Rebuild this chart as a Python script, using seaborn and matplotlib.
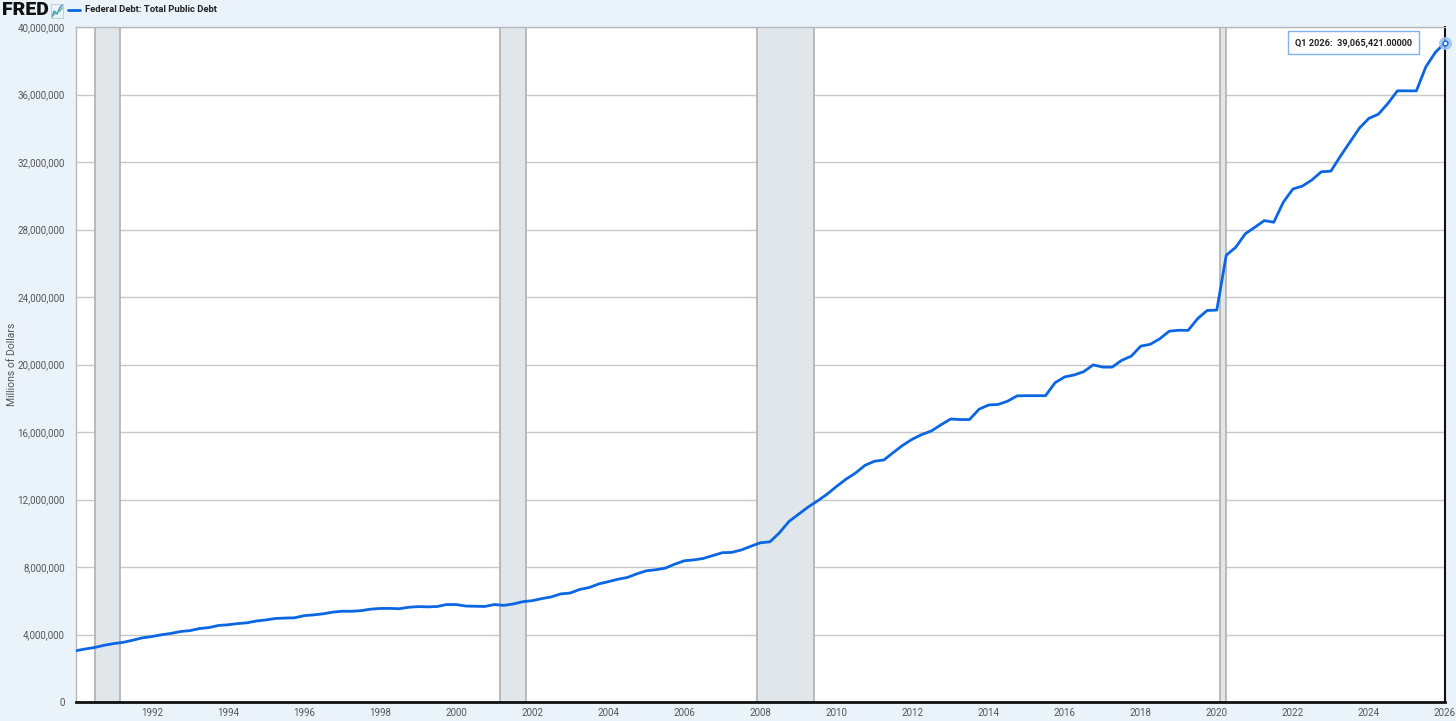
import pandas as pd
import numpy as np
import matplotlib
import matplotlib.pyplot as plt
import matplotlib.dates as mdates
import matplotlib.ticker as ticker
import seaborn as sns

matplotlib.use('Agg')

# Federal Debt: Total Public Debt, millions of dollars, quarterly (Q1 1990 .. Q1 2026)
quarters = pd.date_range('1990-01-01', '2026-01-01', freq='QS')
debt = [
    3040, 3143, 3233, 3365,      # 1990
    3465, 3538, 3665, 3801,      # 1991
    3881, 3985, 4065, 4177,      # 1992
    4231, 4352, 4411, 4536,      # 1993
    4576, 4646, 4693, 4801,      # 1994
    4864, 4951, 4974, 4989,      # 1995
    5118, 5161, 5225, 5323,      # 1996
    5381, 5376, 5413, 5503,      # 1997
    5542, 5548, 5526, 5614,      # 1998
    5652, 5639, 5656, 5776,      # 1999
    5773, 5686, 5674, 5662,      # 2000
    5774, 5727, 5807, 5943,      # 2001
    6006, 6126, 6228, 6405,      # 2002
    6460, 6670, 6783, 6998,      # 2003
    7131, 7274, 7379, 7596,      # 2004
    7777, 7837, 7933, 8170,      # 2005
    8371, 8420, 8507, 8680,      # 2006
    8849, 8867, 9008, 9229,      # 2007
    9437, 9492, 10025, 10700,    # 2008
    11127, 11545, 11910, 12311,  # 2009
    12773, 13202, 13562, 14025,  # 2010
    14270, 14343, 14790, 15223,  # 2011
    15582, 15856, 16066, 16433,  # 2012
    16771, 16738, 16738, 17352,  # 2013
    17601, 17632, 17824, 18141,  # 2014
    18152, 18152, 18151, 18922,  # 2015
    19264, 19381, 19573, 19977,  # 2016
    19846, 19845, 20245, 20493,  # 2017
    21090, 21195, 21516, 21974,  # 2018
    22028, 22023, 22719, 23201,  # 2019
    23224, 26477, 26945, 27748,  # 2020
    28133, 28529, 28429, 29617,  # 2021
    30401, 30569, 30929, 31420,  # 2022
    31458, 32332, 33167, 34001,  # 2023
    34587, 34832, 35465, 36218,  # 2024
    36215, 36215, 37638, 38500,  # 2025
    39065.421,                   # 2026
]
debt = [v * 1000 for v in debt]

# NBER recessions (shaded)
rec_start = ['1990-07-01', '2001-03-01', '2007-12-01', '2020-02-01']
rec_end = ['1991-03-01', '2001-11-01', '2009-06-01', '2020-04-01']

y_ticks = list(range(0, 40_000_001, 4_000_000))
x_years = list(range(1992, 2027, 2))

series_name = 'Federal Debt: Total Public Debt'
line_color = '#0b66e4'
bg_color = '#eaf2fa'

sns.set_theme(style='white')
plt.rcParams['font.family'] = ['Roboto', 'DejaVu Sans']

df = pd.DataFrame({'date': quarters, 'debt': debt})

fig = plt.figure(figsize=(14.56, 7.21), dpi=100, facecolor=bg_color)
ax = fig.add_axes([76 / 1456, 19 / 721, 1369 / 1456, 675 / 721])
ax.set_facecolor('white')

# recession bars
for s, e in zip(rec_start, rec_end):
    ax.axvspan(pd.Timestamp(s), pd.Timestamp(e), facecolor='#e1e6eb',
               edgecolor='#b0b0b0', linewidth=1.2, zorder=1)

sns.lineplot(data=df, x='date', y='debt', ax=ax, color=line_color,
             linewidth=2.0, zorder=3)

ax.set_xlim(pd.Timestamp('1990-01-01'), pd.Timestamp('2026-01-01'))
ax.set_ylim(0, 40_000_000)

ax.set_yticks(y_ticks)
ax.yaxis.set_major_formatter(ticker.FuncFormatter(lambda v, _: '{:,.0f}'.format(v)))
ax.set_xticks([pd.Timestamp(f'{y}-01-01') for y in x_years])
ax.xaxis.set_major_formatter(mdates.DateFormatter('%Y'))
ax.tick_params(axis='both', length=0, labelsize=7, labelcolor='#555555')
ax.tick_params(axis='y', pad=8)
ax.tick_params(axis='x', pad=4)

ax.grid(axis='y', color='#c8c8c8', linewidth=1.0, zorder=0)
ax.grid(axis='x', visible=False)
ax.set_axisbelow(True)

for side in ['top', 'left']:
    ax.spines[side].set_color('#b8b8b8')
    ax.spines[side].set_linewidth(1.0)
ax.spines['bottom'].set_color('#111111')
ax.spines['bottom'].set_linewidth(2.0)
ax.spines['right'].set_color('#111111')
ax.spines['right'].set_linewidth(1.5)

ax.set_xlabel('')
ax.set_ylabel('Millions of Dollars', fontsize=7.5, color='#555555')
ax.yaxis.set_label_coords(-(76 - 17) / 1369, 0.5)

# last point marker and tooltip
last_x, last_y = quarters[-1], debt[-1]
ax.scatter([last_x], [last_y], s=70, color='#9cc2f2', alpha=0.8, zorder=4, clip_on=False)
ax.scatter([last_x], [last_y], s=12, color='white', edgecolor=line_color,
           linewidth=1.0, zorder=5, clip_on=False)
ax.annotate('Q1 2026:  {:,.5f}'.format(last_y), xy=(last_x, last_y),
            xytext=(-33, 0), textcoords='offset pixels', ha='right', va='center',
            fontsize=6.6, fontweight='bold', color='#222222', zorder=6,
            bbox=dict(boxstyle='square,pad=0.75', facecolor='white',
                      edgecolor='#7fb2ee', linewidth=1.0))

# header: FRED logo + legend
fig.text(2 / 1456, 1 - 10 / 721, 'FRED', fontsize=14, fontweight='black',
         color='#111111', va='center', ha='left')
icon = fig.add_axes([51 / 1456, 1 - 18 / 721, 12 / 1456, 14 / 721])
icon.plot([0, 1, 2, 3, 4], [0, 2, 1, 3, 4], color='#4a8ae8', linewidth=1)
icon.plot([0, 1, 2, 3, 4], [0, 1, 1.5, 2, 3], color='#5cbf7a', linewidth=1)
icon.set_xticks([])
icon.set_yticks([])
for sp in icon.spines.values():
    sp.set_color('#b8c8dc')
    sp.set_linewidth(0.6)
icon.set_facecolor(bg_color)

fig.add_artist(matplotlib.lines.Line2D([68 / 1456, 80 / 1456], [1 - 10 / 721, 1 - 10 / 721],
                                       color=line_color, linewidth=2.0))
fig.text(85 / 1456, 1 - 10 / 721, series_name, fontsize=6.8, fontweight='bold',
         color='#222222', va='center', ha='left')

plt.savefig('out.png', dpi=100, facecolor=bg_color)
